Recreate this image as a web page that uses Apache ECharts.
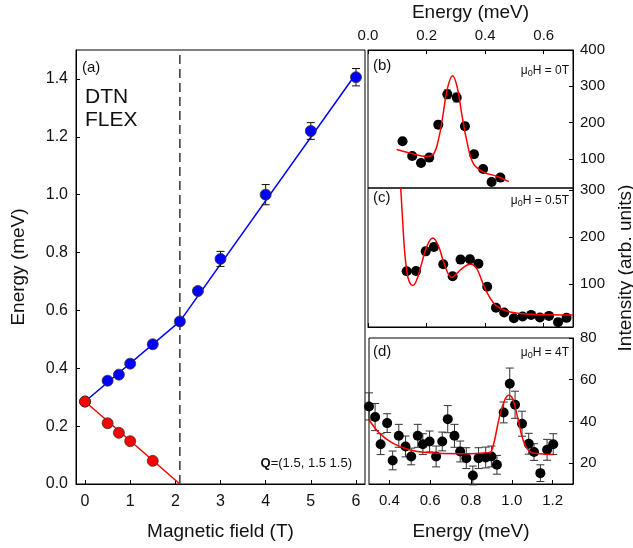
<!DOCTYPE html>
<html>
<head>
<meta charset="utf-8">
<script src="https://cdn.jsdelivr.net/npm/echarts@6/dist/echarts.min.js"></script>
<style>
  html, body { margin: 0; padding: 0; background: #fff; }
  #chart { width: 633px; height: 548px; }
</style>
</head>
<body>
<div id="chart"></div>
<script>
// (a) 磁场 - 能量
const fieldBlue = [0, 0.5, 0.75, 1, 1.5, 2.1, 2.5, 3, 4, 5, 6]
const energyBlue = [0.285, 0.357, 0.378, 0.416, 0.483, 0.562, 0.667, 0.778, 1.0, 1.22, 1.406]
const errBlue = [0.01, 0.008, 0.008, 0.008, 0.008, 0.008, 0.012, 0.026, 0.035, 0.029, 0.03]
const fieldRed = [0, 0.5, 0.75, 1, 1.5]
const energyRed = [0.285, 0.21, 0.177, 0.148, 0.08]
const errRed = [0.01, 0.008, 0.008, 0.008, 0.006]
const fitBlueField = [0, 2.1, 6]
const fitBlueEnergy = [0.285, 0.562, 1.418]
const fitRedField = [0, 2.1]
const fitRedEnergy = [0.285, 0]
const critField = [2.1, 2.1]
const critEnergy = [0, 1.5]
const fieldTicks = [0, 1, 2, 3, 4, 5, 6]
const energyTicksA = [0, 0.2, 0.4, 0.6, 0.8, 1.0, 1.2, 1.4]

// (b) 0T
const energyB = [0.118, 0.151, 0.181, 0.209, 0.24, 0.271, 0.303, 0.331, 0.362, 0.393, 0.422, 0.452]
const intensityB = [148.6, 108, 89, 103.7, 194.5, 278, 269, 190, 113, 72.5, 36.6, 48.6]
const errB = [8, 7, 7, 7, 9, 12, 12, 9, 8, 7, 6, 6]
const fitEnergyB = [0.098, 0.143, 0.2, 0.223, 0.24, 0.255, 0.271, 0.289, 0.305, 0.32, 0.337, 0.36, 0.394, 0.439, 0.481]
const fitIntensityB = [125.8, 116.5, 107, 112.8, 151, 215.6, 293.6, 329, 296, 224.8, 151, 87, 64, 52.3, 37.6]
const energyTicksTop = [0, 0.2, 0.4, 0.6]
const intensityTicksB = [100, 200, 300, 400]

// (c) 0.5T
const energyC = [0.132, 0.164, 0.197, 0.225, 0.257, 0.289, 0.316, 0.348, 0.377, 0.407, 0.437, 0.465, 0.498, 0.528, 0.557, 0.587, 0.618, 0.649, 0.678]
const intensityC = [127.4, 128, 169.5, 178.6, 142, 116.8, 152, 152.6, 143.5, 94.4, 50, 39.6, 27.7, 31.3, 34.7, 29, 32.6, 19.3, 28.4]
const errC = [6, 6, 7, 7, 6, 6, 7, 7, 6, 5, 4, 4, 4, 4, 4, 4, 4, 4, 4]
const fitEnergyC = [0.108, 0.112, 0.117, 0.124, 0.132, 0.141, 0.153, 0.166, 0.183, 0.2, 0.221, 0.24, 0.263, 0.286, 0.314, 0.337, 0.351, 0.371, 0.388, 0.405, 0.428, 0.451, 0.485, 0.542, 0.701]
const fitIntensityC = [340, 301, 248.8, 178.6, 129.5, 104.9, 97.3, 108.4, 143.5, 178.6, 198, 182, 138, 114, 129.5, 140, 142, 133, 108.4, 83.8, 60.6, 48.8, 41, 36.8, 34.7]
const intensityTicksC = [100, 200, 300]

// (d) 4T
const energyD = [0.3, 0.33, 0.357, 0.389, 0.416, 0.446, 0.479, 0.507, 0.539, 0.564, 0.597, 0.629, 0.659, 0.686, 0.719, 0.747, 0.777, 0.809, 0.837, 0.872, 0.9, 0.927, 0.96, 0.99, 1.016, 1.05, 1.083, 1.109, 1.14, 1.173, 1.203]
const intensityD = [47.2, 42.1, 29.1, 39.2, 21.3, 33.1, 28, 23.2, 33.1, 29.1, 30.4, 23.2, 30.4, 41.1, 33.1, 25.6, 22.4, 14.1, 22.4, 22.7, 23.2, 19.2, 44.3, 58.1, 48, 38.9, 29.3, 25.3, 15.2, 26.4, 29.1]
const errD = [6.5, 6.5, 5, 4.5, 4.5, 5.5, 5, 4, 5.5, 5, 5, 5, 4.5, 6.5, 5.5, 5, 5, 4.5, 5, 5, 5, 4.5, 5, 7.5, 6.5, 6, 5, 4, 4, 5, 5]
const fitEnergyD = [0.3, 0.351, 0.416, 0.498, 0.58, 0.744, 0.891, 0.908, 0.94, 0.966, 0.986, 1.006, 1.031, 1.055, 1.088, 1.137, 1.203]
const fitIntensityD = [40.8, 34.4, 29.6, 26.4, 25.1, 24.5, 25.1, 28, 42.4, 50.4, 52.5, 50.4, 40.8, 31.2, 25.6, 24.5, 24.2]
const energyTicksD = [0.4, 0.6, 0.8, 1.0, 1.2]
const intensityTicksD = [20, 40, 60, 80]

const FONT = "Liberation Sans, Arial, sans-serif"

function pts(xs, ys) {
  return xs.map((x, i) => [x, ys[i]])
}
function pts3(xs, ys, es) {
  return xs.map((x, i) => [x, ys[i], es[i]])
}

// 误差棒
function errorBar(cap, color) {
  return function (params, api) {
    const x = api.value(0)
    const y = api.value(1)
    const e = api.value(2)
    const lo = api.coord([x, y - e])
    const hi = api.coord([x, y + e])
    const st = { stroke: color, lineWidth: 1 }
    return {
      type: "group",
      children: [
        { type: "line", shape: { x1: lo[0], y1: lo[1], x2: hi[0], y2: hi[1] }, style: st },
        { type: "line", shape: { x1: lo[0] - cap, y1: lo[1], x2: lo[0] + cap, y2: lo[1] }, style: st },
        { type: "line", shape: { x1: hi[0] - cap, y1: hi[1], x2: hi[0] + cap, y2: hi[1] }, style: st }
      ]
    }
  }
}

function valueAxis(opt) {
  return Object.assign(
    {
      type: "value",
      splitLine: { show: false },
      axisLine: { show: true, onZero: false, lineStyle: { color: "#000", width: 1 } },
      axisTick: { show: true, inside: true, length: 4, lineStyle: { color: "#000" } },
      axisLabel: { color: "#111", fontSize: 15, fontFamily: FONT },
      nameTextStyle: { color: "#111", fontSize: 19, fontFamily: FONT }
    },
    opt
  )
}

const chart = echarts.init(document.getElementById("chart"), null, { renderer: "canvas" })

const option = {
  animation: false,
  backgroundColor: "#fff",
  textStyle: { fontFamily: FONT },
  grid: [
    { left: 76, top: 50, width: 289, height: 434, show: true, borderColor: "#000", borderWidth: 1 },
    { left: 368, top: 50, width: 205, height: 138, show: true, borderColor: "#000", borderWidth: 1 },
    { left: 368, top: 188, width: 205, height: 139, show: true, borderColor: "#000", borderWidth: 1 },
    { left: 369, top: 338, width: 204, height: 146, show: true, borderColor: "#000", borderWidth: 1 }
  ],
  xAxis: [
    valueAxis({
      gridIndex: 0, min: -0.2, max: 6.2, position: "bottom",
      axisTick: { show: true, inside: true, length: 4, customValues: fieldTicks, lineStyle: { color: "#000" } },
      axisLabel: { fontSize: 16, color: "#111", margin: 10, customValues: fieldTicks, formatter: v => String(v) },
      name: "Magnetic field (T)", nameLocation: "middle", nameGap: 38
    }),
    valueAxis({
      gridIndex: 1, min: 0, max: 0.7, position: "top",
      axisTick: { show: true, inside: true, length: 4, customValues: energyTicksTop, lineStyle: { color: "#000" } },
      axisLabel: { fontSize: 15, color: "#111", margin: 7, customValues: energyTicksTop, formatter: v => v.toFixed(1) },
      name: "Energy (meV)", nameLocation: "middle", nameGap: 28
    }),
    valueAxis({
      gridIndex: 2, min: 0, max: 0.7, position: "bottom",
      axisTick: { show: true, inside: true, length: 4, customValues: energyTicksTop, lineStyle: { color: "#000" } },
      axisLabel: { show: false }
    }),
    valueAxis({
      gridIndex: 3, min: 0.3, max: 1.3, position: "bottom",
      axisTick: { show: true, inside: true, length: 4, customValues: energyTicksD, lineStyle: { color: "#000" } },
      axisLabel: { fontSize: 15, color: "#111", margin: 9, customValues: energyTicksD, formatter: v => v.toFixed(1) },
      name: "Energy (meV)", nameLocation: "middle", nameGap: 38
    })
  ],
  yAxis: [
    valueAxis({
      gridIndex: 0, min: 0, max: 1.5,
      axisTick: { show: true, inside: true, length: 4, customValues: energyTicksA, lineStyle: { color: "#000" } },
      axisLabel: { fontSize: 16, color: "#111", margin: 8, customValues: energyTicksA, formatter: v => v.toFixed(1) },
      name: "Energy (meV)", nameLocation: "middle", nameGap: 48
    }),
    valueAxis({
      gridIndex: 1, min: 20, max: 400, position: "right",
      axisTick: { show: true, inside: true, length: 4, customValues: intensityTicksB, lineStyle: { color: "#000" } },
      axisLabel: { fontSize: 15, color: "#111", margin: 7, customValues: intensityTicksB }
    }),
    valueAxis({
      gridIndex: 2, min: 9, max: 304, position: "right",
      axisTick: { show: true, inside: true, length: 4, customValues: intensityTicksC, lineStyle: { color: "#000" } },
      axisLabel: { fontSize: 15, color: "#111", margin: 7, customValues: intensityTicksC }
    }),
    valueAxis({
      gridIndex: 3, min: 10, max: 80, position: "right",
      axisTick: { show: true, inside: true, length: 4, customValues: intensityTicksD, lineStyle: { color: "#000" } },
      axisLabel: { fontSize: 15, color: "#111", margin: 7, customValues: intensityTicksD }
    })
  ],
  series: [
    // (a)
    {
      type: "line", xAxisIndex: 0, yAxisIndex: 0, data: pts(critField, critEnergy),
      showSymbol: false, lineStyle: { color: "#333", width: 1.5, type: [9, 5] }, z: 1
    },
    {
      type: "line", xAxisIndex: 0, yAxisIndex: 0, data: pts(fitBlueField, fitBlueEnergy),
      showSymbol: false, lineStyle: { color: "#0000ff", width: 1.5 }, z: 2
    },
    {
      type: "line", xAxisIndex: 0, yAxisIndex: 0, data: pts(fitRedField, fitRedEnergy),
      showSymbol: false, lineStyle: { color: "#ff0000", width: 1.5 }, z: 2
    },
    {
      type: "custom", xAxisIndex: 0, yAxisIndex: 0, data: pts3(fieldBlue, energyBlue, errBlue),
      renderItem: errorBar(4, "#111"), encode: { x: 0, y: 1 }, z: 3
    },
    {
      type: "custom", xAxisIndex: 0, yAxisIndex: 0, data: pts3(fieldRed, energyRed, errRed),
      renderItem: errorBar(4, "#111"), encode: { x: 0, y: 1 }, z: 3
    },
    {
      type: "scatter", xAxisIndex: 0, yAxisIndex: 0, data: pts(fieldBlue, energyBlue), symbolSize: 11,
      itemStyle: { color: "#0000ff", borderColor: "#333", borderWidth: 0.8, opacity: 1 }, z: 4
    },
    {
      type: "scatter", xAxisIndex: 0, yAxisIndex: 0, data: pts(fieldRed, energyRed), symbolSize: 11,
      itemStyle: { color: "#ff0000", borderColor: "#333", borderWidth: 0.8, opacity: 1 }, z: 5
    },
    // (b)
    {
      type: "custom", xAxisIndex: 1, yAxisIndex: 1, data: pts3(energyB, intensityB, errB),
      renderItem: errorBar(3.5, "#222"), encode: { x: 0, y: 1 }, z: 3
    },
    {
      type: "scatter", xAxisIndex: 1, yAxisIndex: 1, data: pts(energyB, intensityB), symbolSize: 10,
      itemStyle: { color: "#000", opacity: 1 }, z: 4
    },
    {
      type: "line", xAxisIndex: 1, yAxisIndex: 1, data: pts(fitEnergyB, fitIntensityB), smooth: 0.4,
      showSymbol: false, lineStyle: { color: "#ff0000", width: 1.5 }, z: 5
    },
    // (c)
    {
      type: "custom", xAxisIndex: 2, yAxisIndex: 2, data: pts3(energyC, intensityC, errC),
      renderItem: errorBar(3.5, "#222"), encode: { x: 0, y: 1 }, z: 3
    },
    {
      type: "scatter", xAxisIndex: 2, yAxisIndex: 2, data: pts(energyC, intensityC), symbolSize: 10,
      itemStyle: { color: "#000", opacity: 1 }, z: 4
    },
    {
      type: "line", xAxisIndex: 2, yAxisIndex: 2, data: pts(fitEnergyC, fitIntensityC), smooth: 0.4,
      showSymbol: false, clip: true, lineStyle: { color: "#ff0000", width: 1.5 }, z: 5
    },
    // (d)
    {
      type: "custom", xAxisIndex: 3, yAxisIndex: 3, data: pts3(energyD, intensityD, errD),
      renderItem: errorBar(4, "#333"), encode: { x: 0, y: 1 }, z: 3
    },
    {
      type: "scatter", xAxisIndex: 3, yAxisIndex: 3, data: pts(energyD, intensityD), symbolSize: 10,
      itemStyle: { color: "#000", opacity: 1 }, clip: false, z: 4
    },
    {
      type: "line", xAxisIndex: 3, yAxisIndex: 3, data: pts(fitEnergyD, fitIntensityD), smooth: 0.4,
      showSymbol: false, lineStyle: { color: "#ff0000", width: 1.5 }, z: 5
    }
  ],
  graphic: [
    { type: "text", x: 82, y: 68, style: { text: "(a)", fontSize: 15, fontFamily: FONT, fill: "#111", align: "left", verticalAlign: "middle" } },
    { type: "text", x: 85, y: 97, style: { text: "DTN", fontSize: 21, fontFamily: FONT, fill: "#111", align: "left", verticalAlign: "middle" } },
    { type: "text", x: 85, y: 120, style: { text: "FLEX", fontSize: 21, fontFamily: FONT, fill: "#111", align: "left", verticalAlign: "middle" } },
    {
      type: "text", x: 352, y: 463,
      style: {
        text: "{b|Q}{n|=(1.5, 1.5 1.5)}", align: "right", verticalAlign: "middle", fill: "#111",
        rich: {
          b: { fontSize: 13, fontWeight: "bold", fontFamily: FONT, fill: "#111" },
          n: { fontSize: 13, fontFamily: FONT, fill: "#111" }
        }
      }
    },
    { type: "text", x: 373, y: 66, style: { text: "(b)", fontSize: 15, fontFamily: FONT, fill: "#111", align: "left", verticalAlign: "middle" } },
    { type: "text", x: 373, y: 198, style: { text: "(c)", fontSize: 15, fontFamily: FONT, fill: "#111", align: "left", verticalAlign: "middle" } },
    { type: "text", x: 373, y: 352, style: { text: "(d)", fontSize: 15, fontFamily: FONT, fill: "#111", align: "left", verticalAlign: "middle" } },
    ...[["0T", 71], ["0.5T", 201], ["4T", 353]].map(([h, y]) => ({
      type: "text", x: 569, y: y,
      style: {
        text: "{a|μ}{s|0}{a|H = " + h + "}", align: "right", verticalAlign: "middle", fill: "#111",
        rich: {
          a: { fontSize: 12, fontFamily: FONT, fill: "#111", lineHeight: 14 },
          s: { fontSize: 9, fontFamily: FONT, fill: "#111", lineHeight: 7, verticalAlign: "bottom" }
        }
      }
    })),
    {
      type: "text", x: 626, y: 268, rotation: Math.PI / 2,
      style: { text: "Intensity (arb. units)", fontSize: 19, fontFamily: FONT, fill: "#111", align: "center", verticalAlign: "middle" }
    }
  ]
}

chart.setOption(option)
</script>
</body>
</html>
